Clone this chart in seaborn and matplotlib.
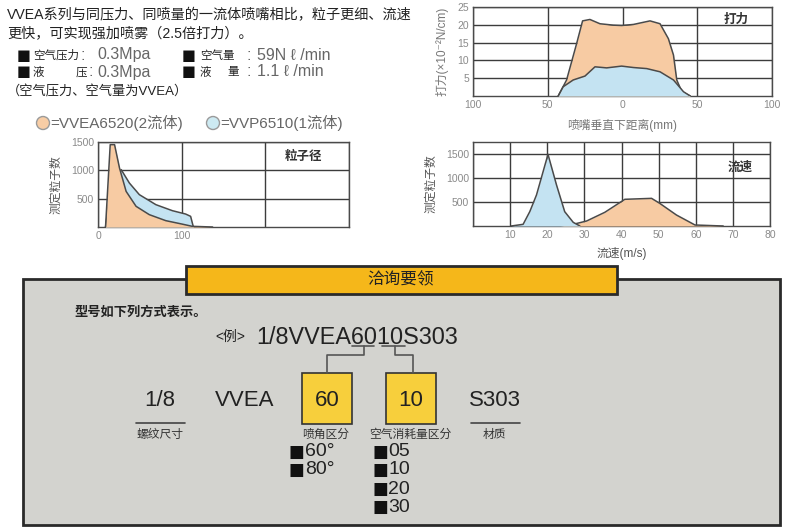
import numpy as np
import pandas as pd
import seaborn as sns
import matplotlib
matplotlib.use("Agg")
import matplotlib.pyplot as plt
from matplotlib.patches import Rectangle, Circle

sns.set_theme(style="white")
plt.rcParams['font.family'] = ['Liberation Sans', 'Noto Sans CJK SC', 'DejaVu Sans']
plt.rcParams['axes.unicode_minus'] = False

# ---------------- data ----------------
# 打力 chart (distance mm vs force)
force_orange_x = [-43, -37.4, -30.7, -26.7, -21.8, -15.1, -6.1, -0.6, 7.3, 18.4, 25.1, 30.7, 34.1, 36.3, 39.7, 45.3]
force_orange_y = [0, 4.5, 14.7, 21.1, 21.5, 20.3, 19.9, 19.8, 20.1, 21.1, 20.3, 16.1, 11.5, 4.5, 1.2, 0]
force_blue_x = [-43, -39.7, -33.0, -25.1, -18.4, -10.6, -0.6, 7.3, 16.2, 25.1, 34.1, 40.8, 45.3]
force_blue_y = [0, 2.6, 4.5, 5.6, 8.2, 7.9, 8.4, 8.0, 7.7, 6.8, 4.5, 1.2, 0]

# 粒子径 chart (particle size vs count)
size_orange_x = [9, 14.6, 19.8, 25.7, 33.6, 45.5, 61.3, 81, 100, 112.6, 137]
size_orange_y = [0, 1453, 1453, 1041, 629, 365, 218, 112, 53, 12, 0]
size_blue_x = [9, 13.8, 27.7, 37.5, 49.4, 69.2, 88.9, 104.7, 110.7, 114]
size_blue_y = [0, 512, 1012, 776, 571, 394, 288, 229, 188, 0]

# 流速 chart (velocity vs count)
vel_blue_x = [10.3, 13.5, 15.3, 17.1, 20.2, 22.5, 24.7, 27.0, 28.8]
vel_blue_y = [0, 35, 300, 646, 1493, 854, 299, 76, 0]
vel_orange_x = [23.4, 27.0, 30.6, 35.5, 40.9, 48.1, 50.3, 54.8, 59.8, 67.4]
vel_orange_y = [0, 35, 104, 285, 556, 576, 472, 229, 21, 0]

force_xticks = [-100, -50, 0, 50, 100]
force_xticklabels = ['100', '50', '0', '50', '100']
force_yticks = [5, 10, 15, 20, 25]
size_xticks = [0, 100, 200, 300]
size_xticklabels = ['0', '100', '', '']
size_yticks = [500, 1000, 1500]
vel_xticks = [0, 10, 20, 30, 40, 50, 60, 70, 80]
vel_xticklabels = ['', '10', '20', '30', '40', '50', '60', '70', '80']
vel_yticks = [500, 1000, 1500]

ORANGE = '#F7CBA3'
BLUE = '#C4E3F2'
LINE = '#4a4a4a'
GRID = '#3c3c3c'

W, H = 800, 530
fig = plt.figure(figsize=(8, 5.3), dpi=100)
fig.patch.set_facecolor('white')

# overlay axes in pixel coordinates
ov = fig.add_axes([0, 0, 1, 1])
ov.set_xlim(0, W)
ov.set_ylim(H, 0)
ov.axis('off')
ov.set_zorder(0)


def ax_px(l, t, r, b):
    return fig.add_axes([l / W, 1 - b / H, (r - l) / W, (b - t) / H])


def style(ax):
    for s in ax.spines.values():
        s.set_color(LINE)
        s.set_linewidth(1.0)
    ax.tick_params(axis='both', length=0, labelsize=7.5, colors='#8a8a8a', pad=3)
    ax.grid(True, color=GRID, linewidth=1.0)
    ax.set_facecolor('white')


def curve(ax, x, y, color, order):
    df = pd.DataFrame({'x': x, 'y': y})
    ax.fill_between(df['x'], 0, df['y'], color=color, zorder=order, linewidth=0)
    sns.lineplot(data=df, x='x', y='y', ax=ax, color=LINE, linewidth=1.1,
                 sort=False, zorder=order + 0.5, estimator=None)


# ---- chart 1: 打力 ----
a1 = ax_px(473, 7, 772, 96)
style(a1)
curve(a1, force_orange_x, force_orange_y, ORANGE, 3)
curve(a1, force_blue_x, force_blue_y, BLUE, 4)
a1.set_xlim(-100, 100)
a1.set_ylim(0, 25)
a1.set_xticks(force_xticks, force_xticklabels)
a1.set_yticks(force_yticks)
a1.set_xlabel('喷嘴垂直下距离(mm)', fontsize=8.5, color='#777', labelpad=6)
a1.set_ylabel('打力(×10⁻²N/cm)', fontsize=8.5, color='#777', labelpad=6)
a1.text(0.88, 0.86, '打力', transform=a1.transAxes, ha='center', va='center',
        fontsize=9, fontweight='bold', color='#333', zorder=6)

# ---- chart 2: 粒子径 ----
a2 = ax_px(98, 142, 349, 227)
style(a2)
curve(a2, size_blue_x, size_blue_y, BLUE, 3)
curve(a2, size_orange_x, size_orange_y, ORANGE, 4)
a2.set_xlim(0, 300)
a2.set_ylim(0, 1500)
a2.set_xticks(size_xticks, size_xticklabels)
a2.set_yticks(size_yticks)
a2.set_xlabel('')
a2.set_ylabel('测定粒子数', fontsize=8.5, color='#555', labelpad=6)
a2.text(0.82, 0.83, '粒子径', transform=a2.transAxes, ha='center', va='center',
        fontsize=9, fontweight='bold', color='#333', zorder=6)

# ---- chart 3: 流速 ----
a3 = ax_px(473, 142, 770, 226)
style(a3)
curve(a3, vel_orange_x, vel_orange_y, ORANGE, 3)
curve(a3, vel_blue_x, vel_blue_y, BLUE, 4)
a3.set_xlim(0, 80)
a3.set_ylim(0, 1750)
a3.set_xticks(vel_xticks, vel_xticklabels)
a3.set_yticks(vel_yticks)
a3.set_xlabel('流速(m/s)', fontsize=8.5, color='#555', labelpad=5)
a3.set_ylabel('测定粒子数', fontsize=8.5, color='#555', labelpad=6)
a3.text(0.9, 0.7, '流速', transform=a3.transAxes, ha='center', va='center',
        fontsize=9, fontweight='bold', color='#333', zorder=6)

# ---------------- top-left text ----------------
dark = '#222222'
mid = '#666666'
ov.text(7, 15, 'VVEA系列与同压力、同喷量的一流体喷嘴相比，粒子更细、流速',
        fontsize=10.2, color=dark, va='center', ha='left')
ov.text(7, 33, '更快，可实现强加喷雾（2.5倍打力）。', fontsize=10.2, color=dark, va='center', ha='left')

sq = dict(fontsize=10.5, color='#111', va='center', family=['DejaVu Sans'])
lab = dict(fontsize=8.3, color=dark, va='center', family=['Noto Sans CJK SC'])
val = dict(fontsize=11.5, color=mid, va='center')
for yy in (55, 72):
    ov.text(17, yy, '■', **sq)
    ov.text(182, yy, '■', **sq)
    ov.text(246, yy, ':', **val)
ov.text(81, 55, ':', **val)
ov.text(89, 72, ':', **val)
ov.text(33, 55, '空气压力', **lab)
ov.text(97, 55, '0.3Mpa', **val)
ov.text(200, 55, '空气量', **lab)
ov.text(257, 55, '59N ℓ /min', **val)
ov.text(33, 72, '液', **lab)
ov.text(76, 72, '压', **lab)
ov.text(97, 72, '0.3Mpa', **val)
ov.text(200, 72, '液', **lab)
ov.text(227, 72, '量', **lab)
ov.text(257, 72, '1.1 ℓ /min', **val)
ov.text(7, 92, '（空气压力、空气量为VVEA）', fontsize=9.5, color=dark, va='center')

# legend row
ov.add_patch(Circle((43, 123), 6.5, facecolor='#F8CDA5', edgecolor='#9a9a9a', lw=1))
ov.text(50, 123, '=VVEA6520(2流体)', fontsize=11, color=mid, va='center')
ov.add_patch(Circle((213, 123), 6.5, facecolor='#CDEAF2', edgecolor='#9a9a9a', lw=1))
ov.text(220, 123, '=VVP6510(1流体)', fontsize=11, color=mid, va='center')

# ---------------- ordering box ----------------
ov.add_patch(Rectangle((23, 279), 757, 246, facecolor='#D3D3CF', edgecolor='#2a2a2a', lw=2))
ov.add_patch(Rectangle((186, 266), 431, 28, facecolor='#F5B71A', edgecolor='#2a2a2a', lw=2))
ov.text(401, 280, '洽询要领', fontsize=12, color='#222', ha='center', va='center')

ov.text(75, 313, '型号如下列方式表示。', fontsize=9.5, color='#222', va='center', fontweight='bold')
ov.text(215, 337, '<例>', fontsize=10, color='#222', va='center')
ov.text(256, 337, '1/8VVEA6010S303', fontsize=16.8, color='#222', va='center')

# underlines in example + connectors
ov.plot([352, 374], [346, 346], color='#555', lw=1.2)
ov.plot([382, 405], [346, 346], color='#555', lw=1.2)
ov.plot([364, 364, 327, 327], [346, 355, 355, 373], color='#555', lw=1.2)
ov.plot([395, 395, 413, 413], [346, 355, 355, 373], color='#555', lw=1.2)

ov.add_patch(Rectangle((302, 373), 50, 51, facecolor='#F7CF3C', edgecolor='#333', lw=1.2))
ov.add_patch(Rectangle((386, 373), 50, 51, facecolor='#F7CF3C', edgecolor='#333', lw=1.2))

big = dict(fontsize=16, color='#222', ha='center', va='center')
ov.text(160, 401, '1/8', **big)
ov.text(245, 401, 'VVEA', **big)
ov.text(327, 401, '60', **big)
ov.text(411, 401, '10', **big)
ov.text(495, 401, 'S303', **big)

ov.plot([136, 185], [423, 423], color='#444', lw=1.2)
ov.plot([471, 520], [423, 423], color='#444', lw=1.2)

ov.text(160, 435, '螺纹尺寸', fontsize=8.5, color='#333', ha='center', va='center')
ov.text(326, 435, '喷角区分', fontsize=8.5, color='#333', ha='center', va='center')
ov.text(410, 435, '空气消耗量区分', fontsize=8.5, color='#333', ha='center', va='center')
ov.text(494, 435, '材质', fontsize=8.5, color='#333', ha='center', va='center')

sq2 = dict(fontsize=12, color='#111', va='center', family=['DejaVu Sans'])
num = dict(fontsize=14, color='#222', va='center')
for txt, yy in [('60°', 452), ('80°', 470)]:
    ov.text(289, yy, '■', **sq2)
    ov.text(305, yy, txt, **num)
for txt, yy in [('05', 452), ('10', 470), ('20', 489), ('30', 507)]:
    ov.text(372, yy, '■', **sq2)
    ov.text(388, yy, txt, **num)

fig.savefig('out.png', dpi=100)
